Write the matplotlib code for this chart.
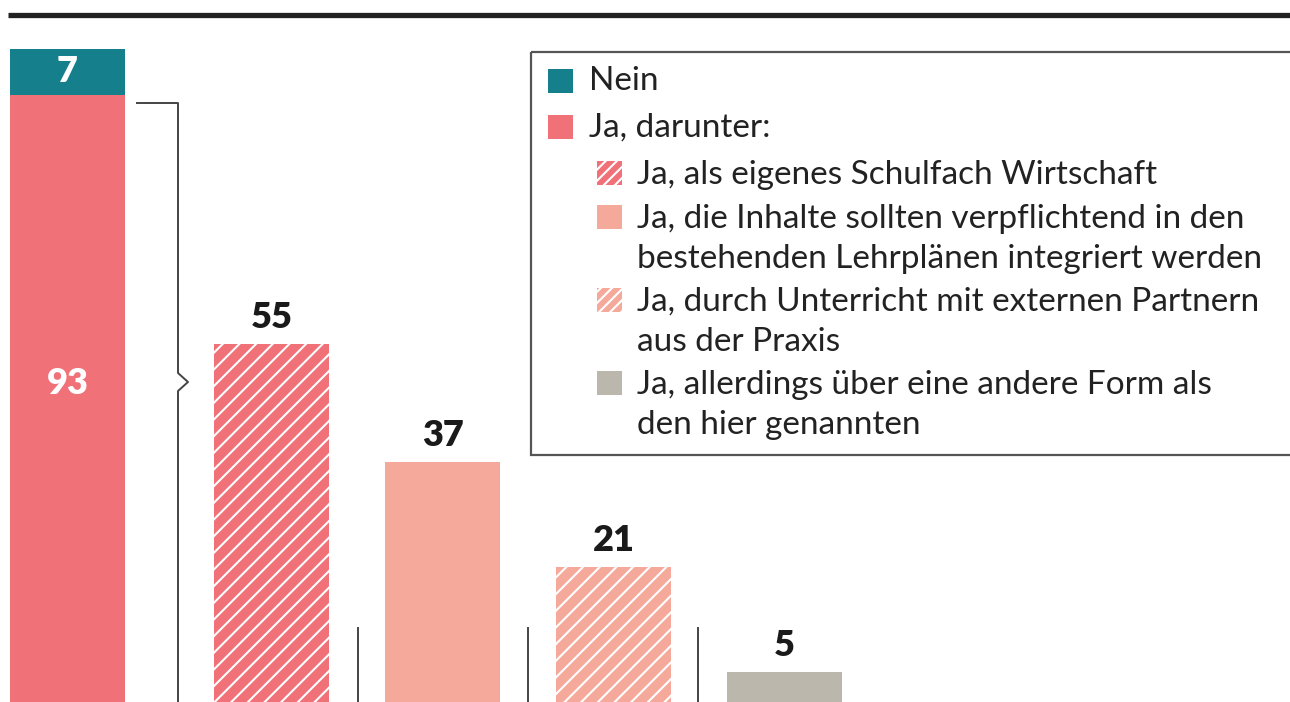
import matplotlib.pyplot as plt
from matplotlib.patches import Rectangle

plt.rcParams['font.family'] = ['Lato', 'DejaVu Sans']
plt.rcParams['hatch.linewidth'] = 1.5

# data
nein = 7
ja = 93
sub_labels = ['Ja, als eigenes Schulfach Wirtschaft',
              'Ja, die Inhalte sollten verpflichtend in den\nbestehenden Lehrplänen integriert werden',
              'Ja, durch Unterricht mit externen Partnern\naus der Praxis',
              'Ja, allerdings über eine andere Form als\nden hier genannten']
sub_values = [55, 37, 21, 5]

c_teal = '#15808b'
c_red = '#f07178'
c_salmon = '#f5a99b'
c_gray = '#bbb7ac'
sub_colors = [c_red, c_salmon, c_salmon, c_gray]
sub_hatch = ['//', None, '//', None]

fig = plt.figure(figsize=(12.9, 7.02), dpi=100)
ax = fig.add_axes([0, 0, 1, 1])
ax.set_xlim(-0.5877, 6.956)
ax.set_ylim(0.457, 107.47)
ax.axis('off')

w = 0.673
x_total = -0.193
ax.bar(x_total, ja, width=w, color=c_red, linewidth=0)
ax.bar(x_total, nein, bottom=ja, width=w, color=c_teal, linewidth=0)
ax.text(x_total, ja + nein / 2, str(nein), color='white', fontsize=26,
        fontweight='heavy', ha='center', va='center')
ax.text(x_total, 49, str(ja), color='white', fontsize=26,
        fontweight='heavy', ha='center', va='center')

xs = range(1, len(sub_values) + 1)
for x, v, c, h in zip(xs, sub_values, sub_colors, sub_hatch):
    if h:
        ax.bar(x, v, width=w, color=c, edgecolor='white', linewidth=0, hatch=h)
    else:
        ax.bar(x, v, width=w, color=c, linewidth=0)
    ax.annotate(str(v), (x, v), xytext=(0, 19), textcoords='offset points',
                ha='center', va='center', fontsize=26, fontweight='heavy',
                color='#1a1a1a')

# overlay in pixel coordinates for decorations
ov = fig.add_axes([0, 0, 1, 1])
ov.set_xlim(0, 1290)
ov.set_ylim(702, 0)
ov.axis('off')
ov.patch.set_alpha(0)

ov.plot([8, 1290], [14.5, 14.5], color='#222222', lw=3.8, solid_capstyle='butt')

# brace
ov.plot([137, 178, 178, 188, 178, 178], [103, 103, 373, 382, 391, 710],
        color='#444444', lw=1.4)

# separators
for sx in [358, 528, 698]:
    ov.plot([sx, sx], [628, 710], color='#444444', lw=1.4)

# legend box
ov.add_patch(Rectangle((531, 52), 800, 403, fill=False, edgecolor='#555555', lw=1.6))

fs = 24
ov.add_patch(Rectangle((548, 69), 25, 24, color=c_teal, lw=0))
ov.text(589, 81, 'Nein', fontsize=fs, va='center', color='#222222')
ov.add_patch(Rectangle((548, 115), 25, 24, color=c_red, lw=0))
ov.text(589, 128, 'Ja, darunter:', fontsize=fs, va='center', color='#222222')

leg_y = [173, 217, 300, 383]
for y, lab, c, h in zip(leg_y, sub_labels, sub_colors, sub_hatch):
    if h:
        ov.add_patch(Rectangle((597, y - 12), 25, 24, facecolor=c,
                               edgecolor='white', lw=0, hatch='///'))
    else:
        ov.add_patch(Rectangle((597, y - 12), 25, 24, color=c, lw=0))
    ov.text(637, y - 13, lab, fontsize=fs, va='top', color='#222222',
            linespacing=1.42)

fig.savefig('out.png', dpi=100)
